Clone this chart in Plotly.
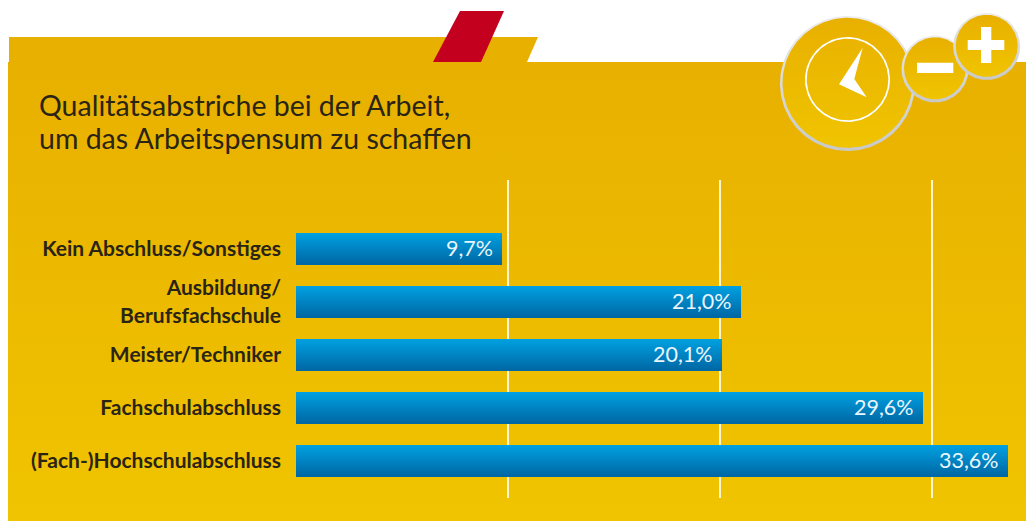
import numpy as np
import plotly.graph_objects as go

# ---- data ----
categories = ["Kein Abschluss/Sonstiges", "Ausbildung/<br>Berufsfachschule", "Meister/Techniker",
              "Fachschulabschluss", "(Fach-)Hochschulabschluss"]
values = [9.7, 21.0, 20.1, 29.6, 33.6]
value_labels = ["9,7%", "21,0%", "20,1%", "29,6%", "33,6%"]
title_lines = ["Qualitätsabstriche bei der Arbeit,", "um das Arbeitspensum zu schaffen"]
grid_ticks = [10, 20, 30]

W, H = 1026, 521
TEXT = "#2a2416"
positions = list(range(len(categories)))


def grad(top, bottom):
    return dict(type="vertical", colorscale=[[0, top], [1, bottom]])


def poly(pts, color=None, fillgradient=None):
    xs, ys = zip(*pts)
    kw = dict(fillgradient=fillgradient) if fillgradient else dict(fillcolor=color)
    return go.Scatter(x=list(xs) + [xs[0]], y=list(ys) + [ys[0]], mode="lines", fill="toself",
                      line=dict(width=0), hoverinfo="skip", showlegend=False, xaxis="x", yaxis="y", **kw)


def circle(cx, cy, r, **kw):
    t = np.linspace(0, 2 * np.pi, 181)[:-1]
    return poly(list(zip(cx + r * np.cos(t), cy + r * np.sin(t))), **kw)


fig = go.Figure()

# decoration: panel, tab, red flag, icons (page-sized helper axes)
fig.add_trace(poly([(9, 37), (538, 37), (527, 62), (9, 62)], color="#E8B000"))
fig.add_trace(poly([(8, 62), (W, 62), (W, H), (8, H)], fillgradient=grad("#F0C400", "#E8B000")))
fig.add_trace(poly([(460, 11), (504, 11), (481, 62), (433, 62)], color="#C4001F"))
GOLD = grad("#F0C400", "#E8B000")
RING = grad("#C8C8C8", "#ECECEC")
for cx, cy, r in [(847.5, 83.5, 67.5), (935, 69, 33.5), (986.7, 46.5, 33.5)]:
    fig.add_trace(circle(cx, cy, r, fillgradient=RING))
    fig.add_trace(circle(cx, cy - 0.7, r - 2.5, fillgradient=GOLD))
fig.add_trace(circle(847.5, 79.5, 42.5, color="#FFFFFF"))
fig.add_trace(circle(847.5, 79.5, 40.8, fillgradient=grad("#EEC000", "#EAB400")))
fig.add_trace(poly([(862.7, 47.7), (854.3, 79), (866.7, 97.3), (839, 84.3)], color="#FFFFFF"))
fig.add_trace(poly([(917, 62.7), (953.3, 62.7), (953.3, 73), (917, 73)], color="#FFFFFF"))
fig.add_trace(poly([(967.7, 40), (981, 40), (981, 27), (991.3, 27), (991.3, 40), (1004.3, 40),
                    (1004.3, 50), (991.3, 50), (991.3, 63), (981, 63), (981, 50), (967.7, 50)], color="#FFFFFF"))

# bars: thin overlaid slices give the vertical gradient
N = 31
BAR_H = 31 / 53
top_c, bot_c = np.array([0, 160, 225]), np.array([0, 104, 165])
for i in range(N):
    c = top_c + (bot_c - top_c) * i / (N - 1)
    fig.add_trace(go.Bar(
        x=values, y=positions, orientation="h", xaxis="x2", yaxis="y2",
        width=BAR_H / N * 1.15, offset=-BAR_H / 2 + BAR_H * i / N,
        marker=dict(color=f"rgb({c[0]:.0f},{c[1]:.0f},{c[2]:.0f})", line=dict(width=0)),
        showlegend=False, hoverinfo="skip" if i else None,
    ))

annotations = [
    dict(x=v, y=p, xref="x2", yref="y2", text=t, showarrow=False, xanchor="right", xshift=-7, yshift=1,
         font=dict(family="Lato, sans-serif", size=21.5, color="#EAF6FC"))
    for v, p, t in zip(values, positions, value_labels)
]
for line, y in zip(title_lines, [105, 138]):
    annotations.append(dict(x=37 / W, y=1 - y / H, xref="paper", yref="paper", text=line, showarrow=False,
                            xanchor="left", yanchor="middle",
                            font=dict(family="Lato, sans-serif", size=28.5, color=TEXT)))

X0, PX = 296, 712 / 33.6
CY0 = 248.6  # pixel centre of first bar, on the y range below
fig.update_layout(
    width=W, height=H, margin=dict(l=0, r=0, t=0, b=0),
    paper_bgcolor="#FFFFFF", plot_bgcolor="rgba(0,0,0,0)",
    barmode="overlay", bargap=0, showlegend=False, annotations=annotations,
    xaxis=dict(domain=[0, 1], range=[0, W], visible=False, fixedrange=True),
    yaxis=dict(domain=[0, 1], range=[H, 0], visible=False, fixedrange=True),
    xaxis2=dict(domain=[X0 / W, 1], range=[0, (W - X0) / PX], anchor="y2", tickvals=grid_ticks,
                showticklabels=False, ticks="", showgrid=True, gridcolor="#FFF6D0", gridwidth=1.5,
                zeroline=False, showline=False),
    yaxis2=dict(domain=[1 - 498 / H, 1 - 180 / H], range=[(498 - CY0) / 53, (180 - CY0) / 53], anchor="x2",
                tickvals=positions, ticktext=categories, ticks="", showgrid=False, zeroline=False,
                showline=False, ticklabelstandoff=14,
                tickfont=dict(family="Lato, sans-serif", size=21, color=TEXT, weight="bold")),
)
fig.write_html("out.html", config=dict(displayModeBar=False),
               post_script="document.body.style.margin='0';document.documentElement.style.overflow='hidden';")
